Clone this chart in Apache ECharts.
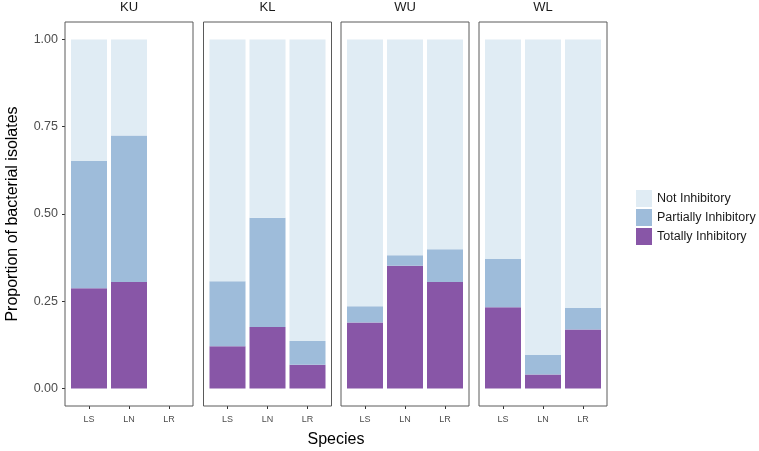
<!DOCTYPE html>
<html>
<head>
<meta charset="utf-8">
<script src="https://cdn.jsdelivr.net/npm/echarts@6/dist/echarts.min.js"></script>
<style>html,body{margin:0;padding:0;background:#fff;}#chart{width:759px;height:451px;}</style>
</head>
<body>
<div id="chart"></div>
<script>
var panels = ['KU', 'KL', 'WU', 'WL'];
var species = ['LS', 'LN', 'LR'];
var yTicks = [0, 0.25, 0.5, 0.75, 1];
// segment values per panel, in species order (null = no bar)
var totally = [
  [0.287, 0.305, null],
  [0.121, 0.176, 0.068],
  [0.189, 0.352, 0.305],
  [0.233, 0.040, 0.169]
];
var partially = [
  [0.365, 0.420, null],
  [0.186, 0.313, 0.068],
  [0.047, 0.030, 0.094],
  [0.138, 0.056, 0.062]
];
var notInhib = [
  [0.348, 0.275, null],
  [0.693, 0.511, 0.864],
  [0.764, 0.618, 0.601],
  [0.629, 0.904, 0.769]
];

(function () {
var FONT = 'Liberation Sans, Arial, sans-serif';
var lefts = [65, 203.5, 341, 479];
var pw = 128, gTop = 22, ph = 384, inset = 4;
var colors = {t: '#8856a7', p: '#9ebcda', n: '#e0ecf4'};

var grids = [], xAxes = [], yAxes = [], series = [], titles = [], borders = [];
panels.forEach(function (name, i) {
  grids.push({left: lefts[i] + inset, top: gTop, width: pw - 2 * inset, height: ph, show: false, containLabel: false});
  borders.push({type: 'rect', shape: {x: lefts[i], y: gTop, width: pw, height: ph}, z: 100,
    style: {fill: 'none', stroke: '#5a5a5a', lineWidth: 1}, silent: true});
  xAxes.push({type: 'category', gridIndex: i, data: species, boundaryGap: true,
    axisLine: {show: false, onZero: false}, splitLine: {show: false},
    axisTick: {show: true, alignWithLabel: true, length: 3, lineStyle: {color: '#333'}},
    axisLabel: {show: true, margin: 9, fontSize: 9, color: '#4d4d4d', fontFamily: FONT}});
  yAxes.push({type: 'value', gridIndex: i, min: -0.05, max: 1.05, offset: inset,
    axisLine: {show: false}, splitLine: {show: false},
    axisTick: {show: i === 0, length: 3, lineStyle: {color: '#333'}, customValues: yTicks},
    axisLabel: {show: i === 0, customValues: yTicks, margin: 7, fontSize: 12.5, color: '#4d4d4d', fontFamily: FONT,
      formatter: function (v) { return v.toFixed(2); }},
    name: i === 0 ? 'Proportion of bacterial isolates' : '',
    nameLocation: 'middle', nameRotate: 90, nameGap: 44,
    nameTextStyle: {fontSize: 16, color: '#000', fontFamily: FONT}});
  titles.push({text: name, left: lefts[i] + pw / 2, top: 1, padding: 0, textAlign: 'center',
    textStyle: {fontSize: 13, fontWeight: 'normal', color: '#1a1a1a', fontFamily: FONT}});
  function mk(arr) {
    return arr.map(function (v) { return v === null ? '-' : v; });
  }
  [['Totally Inhibitory', totally, colors.t], ['Partially Inhibitory', partially, colors.p], ['Not Inhibitory', notInhib, colors.n]].forEach(function (s) {
    series.push({name: s[0], type: 'bar', stack: 'p' + i, xAxisIndex: i, yAxisIndex: i,
      barWidth: '90%', data: mk(s[1][i]), itemStyle: {color: s[2]}, animation: false, silent: true});
  });
});
titles.push({text: 'Species', left: 336, top: 432, padding: 0, textAlign: 'center',
  textStyle: {fontSize: 16, fontWeight: 'normal', color: '#000', fontFamily: FONT}});

var chart = echarts.init(document.getElementById('chart'));
chart.setOption({
  animation: false,
  backgroundColor: '#fff',
  title: titles,
  grid: grids,
  xAxis: xAxes,
  yAxis: yAxes,
  graphic: {elements: borders},
  legend: {orient: 'vertical', left: 636, top: 190, padding: 0, itemWidth: 16, itemHeight: 17, itemGap: 2,
    icon: 'rect', data: ['Not Inhibitory', 'Partially Inhibitory', 'Totally Inhibitory'],
    textStyle: {fontSize: 12.5, color: '#1a1a1a', fontFamily: FONT}, itemStyle: {borderWidth: 0}, selectedMode: false},
  series: series
});
})();
</script>
</body>
</html>
